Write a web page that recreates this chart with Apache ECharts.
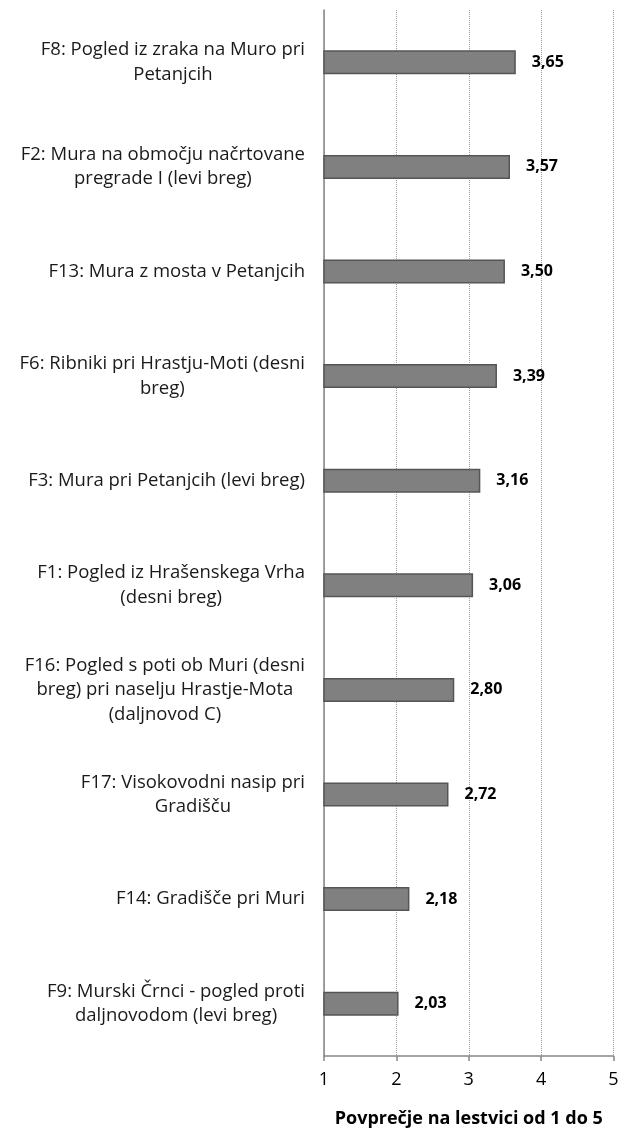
<!DOCTYPE html>
<html><head><meta charset="utf-8">
<script src="https://cdn.jsdelivr.net/npm/echarts@6/dist/echarts.min.js"></script>
<style>html,body{margin:0;padding:0;background:#fff}#c{width:625px;height:1139px}</style>
</head><body><div id="c"></div>
<script>
const categories = [
  "F8: Pogled iz zraka na Muro pri\nPetanjcih",
  "F2: Mura na območju načrtovane\npregrade I (levi breg)",
  "F13: Mura z mosta v Petanjcih",
  "F6: Ribniki pri Hrastju-Moti (desni\nbreg)",
  "F3: Mura pri Petanjcih (levi breg)",
  "F1: Pogled iz Hrašenskega Vrha\n(desni breg)",
  "F16: Pogled s poti ob Muri (desni\nbreg) pri naselju Hrastje-Mota\n(daljnovod C)",
  "F17: Visokovodni nasip pri\nGradišču",
  "F14: Gradišče pri Muri",
  "F9: Murski Črnci - pogled proti\ndaljnovodom (levi breg)"
];
const values = [3.65, 3.57, 3.50, 3.39, 3.16, 3.06, 2.80, 2.72, 2.18, 2.03];
const axisName = "Povprečje na lestvici od 1 do 5";
const xTicks = [1, 2, 3, 4, 5];

const FONT = "Open Sans";
const chart = echarts.init(document.getElementById('c'), null, {renderer: 'canvas'});
chart.setOption({
  animation: false,
  backgroundColor: '#fff',
  grid: {left: 324, right: 11.5, top: 10, bottom: 83, containLabel: false},
  xAxis: {
    type: 'value', min: xTicks[0], max: xTicks[xTicks.length - 1], interval: 1,
    name: axisName, nameLocation: 'middle', nameGap: 54,
    nameTextStyle: {fontFamily: FONT, fontSize: 18, fontWeight: 'bold', color: '#000'},
    axisLine: {show: true, lineStyle: {color: '#868686', width: 1.5}},
    axisTick: {show: true, length: 5, lineStyle: {color: '#868686', width: 1.5}},
    axisLabel: {fontFamily: FONT, fontSize: 18, color: '#000', margin: 15},
    splitLine: {show: true, lineStyle: {color: '#9a9a9a', type: [1, 1], width: 1}}
  },
  yAxis: {
    type: 'category', data: categories, inverse: true,
    axisLine: {show: true, lineStyle: {color: '#868686', width: 1.5}},
    axisTick: {show: false},
    splitLine: {show: false},
    axisLabel: {
      margin: 19, interval: 0, color: '#000',
      formatter: v => v.split('\n').map(l => '{c|' + l + '}').join('\n'),
      rich: {c: {align: 'center', fontFamily: FONT, fontSize: 18.5, lineHeight: 24.5, color: '#1a1a1a'}}
    }
  },
  series: [{
    type: 'bar', data: values, barWidth: 24, clip: true,
    itemStyle: {color: '#808080', borderColor: '#555555', borderWidth: 1.5},
    label: {
      show: true, position: 'right', distance: 16,
      fontFamily: FONT, fontSize: 16, fontWeight: 'bold', color: '#000',
      formatter: p => p.value.toFixed(2).replace('.', ',')
    }
  }]
});
</script></body></html>
